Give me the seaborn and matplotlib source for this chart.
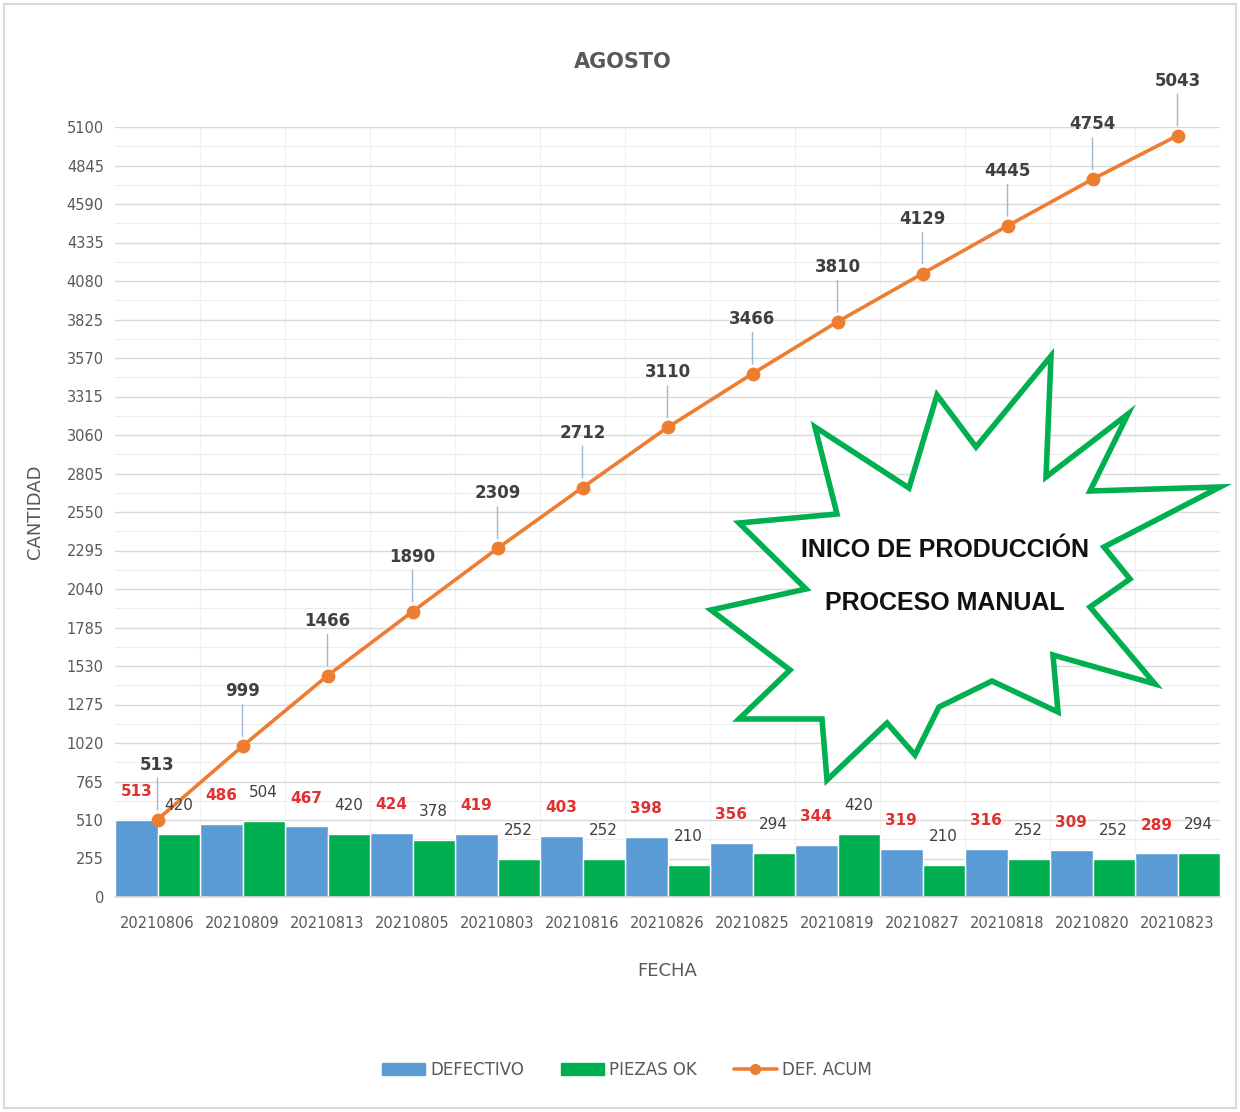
import numpy as np
import pandas as pd
import matplotlib
matplotlib.use("Agg")
import matplotlib.pyplot as plt
import seaborn as sns
from matplotlib.patches import Polygon, Rectangle, Patch
from matplotlib.lines import Line2D

# ---------------- data ----------------
fechas = ["20210806", "20210809", "20210813", "20210805", "20210803", "20210816",
          "20210826", "20210825", "20210819", "20210827", "20210818", "20210820",
          "20210823"]
defectivo = [513, 486, 467, 424, 419, 403, 398, 356, 344, 319, 316, 309, 289]
piezas_ok = [420, 504, 420, 378, 252, 252, 210, 294, 420, 210, 252, 252, 294]
def_acum = [513, 999, 1466, 1890, 2309, 2712, 3110, 3466, 3810, 4129, 4445, 4754, 5043]
y_ticks = [0, 255, 510, 765, 1020, 1275, 1530, 1785, 2040, 2295, 2550, 2805,
           3060, 3315, 3570, 3825, 4080, 4335, 4590, 4845, 5100]
series_names = ["DEFECTIVO", "PIEZAS OK", "DEF. ACUM"]

title = "AGOSTO"
star_lines = ["INICO DE PRODUCCIÓN", "PROCESO MANUAL"]

# ---------------- style ----------------
sns.set_theme(style="white")
plt.rcParams["font.family"] = ["DejaVu Sans"]

BLUE = "#5B9BD5"
GREEN = "#00B050"
ORANGE = "#ED7D31"
GRAY = "#595959"

df = pd.DataFrame({
    "fecha": fechas * 2,
    "cantidad": defectivo + piezas_ok,
    "serie": [series_names[0]] * len(fechas) + [series_names[1]] * len(fechas),
})

W, H = 1240, 1112
fig = plt.figure(figsize=(W / 100, H / 100), dpi=100)
fig.patch.set_facecolor("white")
ax = fig.add_axes([115 / W, 1 - 897 / H, (1220 - 115) / W, (897 - 127) / H])

sns.barplot(data=df, x="fecha", y="cantidad", hue="serie", order=fechas,
            hue_order=series_names[:2], palette=[BLUE, GREEN], width=1.0,
            saturation=1, ax=ax, legend=False, zorder=2)

sns.pointplot(x=fechas, y=def_acum, order=fechas, color=ORANGE, markers="o",
              linestyles="-", errorbar=None, ax=ax, zorder=3,
              markersize=8, linewidth=2.6)

ax.set_xlim(-0.5, len(fechas) - 0.5)
ax.set_ylim(0, 5100)
ax.set_yticks(y_ticks)
ax.set_yticklabels([str(v) for v in y_ticks])

# grid
ax.set_yticks([v + 127.5 for v in y_ticks[:-1]], minor=True)
ax.set_xticks([i + 0.5 for i in range(len(fechas) - 1)], minor=True)
ax.grid(True, axis="y", which="major", color="#D9D9D9", lw=1.0, zorder=0)
ax.grid(True, axis="y", which="minor", color="#EDEDED", lw=0.8, zorder=0)
ax.grid(True, axis="x", which="minor", color="#F0F0F0", lw=0.8, zorder=0)
ax.set_axisbelow(True)
for s in ["top", "right", "left"]:
    ax.spines[s].set_visible(False)
ax.spines["bottom"].set_color("#D9D9D9")
ax.tick_params(axis="both", which="both", length=0)
ax.tick_params(axis="both", labelsize=10.5, labelcolor=GRAY, pad=8)
ax.tick_params(axis="x", pad=14)

ax.set_xlabel("FECHA", fontsize=13, color=GRAY, labelpad=22)
ax.set_ylabel("CANTIDAD", fontsize=13, color=GRAY, labelpad=16)

# bar labels
ax.bar_label(ax.containers[0], labels=[str(v) for v in defectivo], padding=15,
             color="#E03030", fontsize=11, fontweight="bold")
ax.bar_label(ax.containers[1], labels=[str(v) for v in piezas_ok], padding=15,
             color="#404040", fontsize=11)

# cumulative labels with leader lines
for i, v in enumerate(def_acum):
    ax.annotate(str(v), xy=(i, v), xytext=(0, 46), textcoords="offset pixels",
                ha="center", va="bottom", fontsize=12, color="#404040",
                fontweight="bold",
                arrowprops=dict(arrowstyle="-", color="#9DB7D5", lw=1,
                                shrinkA=1, shrinkB=7), zorder=4)

# title
fig.text(623 / W, 1 - 62 / H, title, ha="center", va="center", fontsize=15,
         fontweight="bold", color=GRAY)

# starburst callout (decoration)
star_px = [(1051, 356), (1046, 477), (1128, 414), (1090, 491), (1220, 487),
           (1104, 547), (1130, 579), (1090, 607), (1155, 684), (1053, 655),
           (1058, 712), (992, 681), (939, 707), (915, 755), (887, 723),
           (827, 780), (822, 719), (739, 719), (790, 670), (711, 610),
           (806, 589), (739, 523), (837, 514), (815, 427), (909, 488),
           (937, 395), (976, 447)]
star = Polygon([(x / W, 1 - y / H) for x, y in star_px], closed=True,
               transform=fig.transFigure, facecolor="white", edgecolor=GREEN,
               lw=4, joinstyle="miter", zorder=5)
fig.patches.append(star)
for txt, yp in zip(star_lines, [550, 603]):
    fig.text(945 / W, 1 - yp / H, txt, ha="center", va="center",
             fontsize=18, fontweight="bold", color="#111111",
             family=["Liberation Sans", "DejaVu Sans"], zorder=6)

# legend
handles = [Patch(facecolor=BLUE, edgecolor=BLUE),
           Patch(facecolor=GREEN, edgecolor=GREEN),
           Line2D([0], [0], color=ORANGE, lw=2.6, marker="o", markersize=7)]
fig.legend(handles, series_names, loc="center", bbox_to_anchor=(627 / W, 1 - 1070 / H),
           ncol=3, frameon=False, fontsize=12, labelcolor=GRAY,
           handlelength=2.6, handletextpad=0.3, columnspacing=2.2)

# outer border
fig.patches.append(Rectangle((4 / W, 4 / H), 1 - 8 / W, 1 - 8 / H,
                             transform=fig.transFigure, fill=False,
                             edgecolor="#D9D9D9", lw=1.5, zorder=0))

fig.savefig("out.png", dpi=100)
